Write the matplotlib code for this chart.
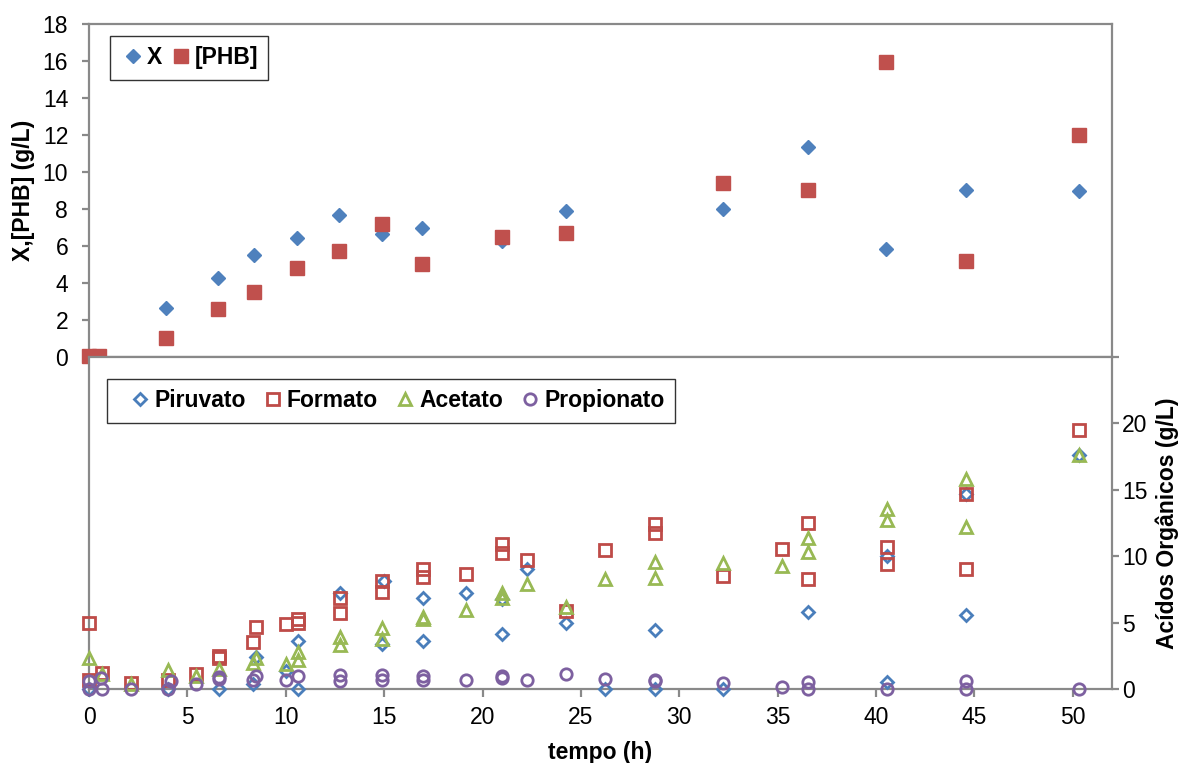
import matplotlib
matplotlib.use("Agg")
import matplotlib.pyplot as plt
from matplotlib.ticker import FixedLocator, FuncFormatter

plt.rcParams['font.family'] = ['Liberation Sans', 'DejaVu Sans']

# ---------------- data: top panel ----------------
t_x = [0.0, 3.9, 6.53, 8.36, 10.56, 12.71, 14.88, 16.9, 20.97, 24.25, 32.25, 36.53, 40.5, 44.59, 50.32]
x_biomass = [0.0, 2.64, 4.26, 5.52, 6.43, 7.69, 6.64, 7.0, 6.3, 7.92, 8.01, 11.39, 5.86, 9.04, 9.0]
t_phb = [0.0, 0.5, 3.9, 6.53, 8.36, 10.56, 12.71, 14.88, 16.9, 20.97, 24.25, 32.25, 36.53, 40.5, 44.59, 50.32]
phb = [0.05, 0.05, 1.01, 2.6, 3.5, 4.8, 5.74, 7.2, 5.03, 6.51, 6.73, 9.42, 9.04, 15.99, 5.18, 12.02]

# ---------------- data: bottom panel ----------------
t_piruvato = [0.0, 4.0, 6.6, 8.35, 8.5, 10.0, 10.6, 10.6, 12.75, 14.9, 15.0, 16.95, 16.95, 19.15,
              21.0, 21.0, 22.25, 24.25, 26.25, 28.75, 28.75, 32.25, 36.55, 40.55, 40.55,
              44.6, 44.6, 50.3]
piruvato = [0.0, 0.0, 0.0, 0.37, 2.4, 1.37, 3.62, 0.0, 7.2, 3.4, 8.1, 6.83, 3.65, 7.2,
            6.75, 4.15, 9.0, 5.0, 0.0, 4.45, 0.0, 0.0, 5.8, 10.05, 0.5,
            14.7, 5.57, 17.6]

t_formato = [0.0, 0.0, 0.68, 2.15, 4.0, 5.46, 6.6, 6.6, 8.35, 8.5, 10.0, 10.6, 10.6, 12.75, 12.75,
             14.9, 14.9, 16.95, 16.95, 19.15, 21.0, 21.0, 22.25, 24.25, 26.25, 28.75, 28.75,
             32.25, 35.2, 36.55, 36.55, 40.55, 40.55, 44.6, 44.6, 50.3]
formato = [5.0, 0.7, 1.2, 0.45, 0.7, 1.15, 2.5, 2.35, 3.57, 4.65, 4.88, 5.3, 5.0, 6.83, 5.7,
           8.15, 7.3, 9.0, 8.45, 8.63, 10.9, 10.25, 9.75, 5.9, 10.5, 12.4, 11.78,
           8.52, 10.52, 12.53, 8.27, 10.7, 9.4, 14.65, 9.03, 19.5]

t_acetato = [0.0, 0.68, 2.15, 4.0, 5.46, 6.6, 8.35, 8.5, 10.0, 10.6, 10.6, 12.75, 12.75, 14.9, 14.9,
             16.95, 16.95, 19.15, 21.0, 21.0, 22.25, 24.25, 26.25, 28.75, 28.75, 32.25, 35.2,
             36.55, 36.55, 40.55, 40.55, 44.6, 44.6, 50.3]
acetato = [2.37, 1.1, 0.4, 1.45, 1.0, 1.5, 1.95, 2.3, 1.9, 2.8, 2.15, 3.9, 3.3, 4.57, 3.8,
           5.45, 5.3, 5.95, 7.2, 6.83, 7.88, 6.2, 8.27, 9.57, 8.37, 9.5, 9.25,
           11.4, 10.32, 13.58, 12.75, 15.83, 12.2, 17.65]

t_propionato = [0.0, 0.0, 0.6, 0.68, 2.15, 4.0, 4.15, 5.46, 6.6, 6.6, 8.35, 8.5, 10.0, 10.6,
                12.75, 12.75, 14.9, 14.9, 16.95, 16.95, 19.15, 21.0, 21.0, 22.25, 24.25, 26.25,
                28.75, 28.75, 32.25, 35.2, 36.55, 36.55, 40.55, 44.6, 44.6, 50.3]
propionato = [0.57, 0.0, 0.82, 0.0, 0.0, 0.0, 0.57, 0.4, 0.9, 0.75, 0.7, 1.0, 0.65, 0.95,
              1.07, 0.57, 1.07, 0.7, 1.0, 0.7, 0.65, 0.95, 0.85, 0.65, 1.15, 0.75,
              0.7, 0.6, 0.45, 0.15, 0.5, 0.0, 0.0, 0.62, 0.0, 0.0]

x_ticks = [0, 5, 10, 15, 20, 25, 30, 35, 40, 45, 50]
top_y_ticks = [0, 2, 4, 6, 8, 10, 12, 14, 16, 18]
bot_y_ticks = [0, 5, 10, 15, 20, 25]

# ---------------- styling ----------------
GRAY = '#898989'
BLUE_F = '#4F81BD'
RED_F = '#C0504D'
BLUE = '#4A7EBB'
RED = '#BE4B48'
GREEN = '#98B954'
PURPLE = '#7D60A0'
FS = 16.5

fig = plt.figure(figsize=(11.81, 7.63), dpi=100)
ax1 = fig.add_axes([0.0754, 0.5321, 0.8662, 0.4358], zorder=1)
ax2 = fig.add_axes([0.0754, 0.0970, 0.8662, 0.4351], zorder=2)

for ax in (ax1, ax2):
    for s in ax.spines.values():
        s.set_color(GRAY)
        s.set_linewidth(1.6)
    ax.set_xlim(0, 52)
    ax.set_facecolor('white')

# top panel
ax1.plot(t_x, x_biomass, linestyle='none', marker='D', markersize=7.2,
         color=BLUE_F, markeredgecolor=BLUE_F, clip_on=False, zorder=3, label='X')
ax1.plot(t_phb, phb, linestyle='none', marker='s', markersize=10,
         color=RED_F, markeredgecolor=RED_F, clip_on=False, zorder=3, label='[PHB]')
ax1.set_ylim(0, 18)
ax1.yaxis.set_major_locator(FixedLocator(top_y_ticks))
ax1.tick_params(axis='y', direction='out', length=5, width=1.6, color=GRAY,
                labelsize=FS, pad=10)
ax1.tick_params(axis='x', length=0, labelbottom=False)
ax1.set_ylabel('X,[PHB] (g/L)', fontsize=FS, fontweight='bold')
ax1.yaxis.label.set_va('center')
ax1.yaxis.label.set_ha('center')
ax1.yaxis.set_label_coords(-0.0642, 0.5)
leg1 = ax1.legend(loc='upper left', bbox_to_anchor=(0.0205, 0.9654), borderaxespad=0,
                  ncol=2, numpoints=1, handlelength=1.12, handletextpad=0.04,
                  columnspacing=0.25, frameon=True, fancybox=False,
                  prop={'size': FS, 'weight': 'bold'}, borderpad=0.45)
leg1.get_frame().set_edgecolor('black')
leg1.get_frame().set_linewidth(1.0)

# bottom panel
mk = dict(linestyle='none', markerfacecolor='none', markeredgewidth=2.0,
          clip_on=False, zorder=3)
ax2.plot(t_piruvato, piruvato, marker='D', markersize=6.4, markeredgecolor=BLUE,
         color=BLUE, label='Piruvato', **mk)
ax2.plot(t_formato, formato, marker='s', markersize=8.3, markeredgecolor=RED,
         color=RED, label='Formato', **mk)
ax2.plot(t_acetato, acetato, marker='^', markersize=8.7, markeredgecolor=GREEN,
         color=GREEN, label='Acetato', **mk)
ax2.plot(t_propionato, propionato, marker='o', markersize=8.2, markeredgecolor=PURPLE,
         color=PURPLE, label='Propionato', **mk)
ax2.set_ylim(0, 25)
ax2.yaxis.tick_right()
ax2.yaxis.set_label_position('right')
ax2.yaxis.set_major_locator(FixedLocator(bot_y_ticks))
ax2.yaxis.set_major_formatter(FuncFormatter(lambda v, p: '' if v >= 25 else '%d' % v))
ax2.xaxis.set_major_locator(FixedLocator(x_ticks))
ax2.tick_params(axis='y', direction='out', length=5, width=1.6, color=GRAY,
                labelsize=FS, pad=2)
ax2.tick_params(axis='x', direction='out', length=6, width=1.6, color=GRAY,
                labelsize=FS, pad=6)
ax2.set_ylabel('Acídos Orgânicos (g/L)', fontsize=FS, fontweight='bold')
ax2.yaxis.label.set_va('center')
ax2.yaxis.label.set_ha('center')
ax2.yaxis.label.set_rotation(90)
ax2.yaxis.set_label_coords(1.0535, 0.5)
ax2.set_xlabel('tempo (h)', fontsize=FS, fontweight='bold')
ax2.xaxis.label.set_va('center')
ax2.xaxis.set_label_coords(0.5, -0.19)
leg2 = ax2.legend(loc='upper left', bbox_to_anchor=(0.0176, 0.9337), borderaxespad=0,
                  ncol=4, numpoints=1, handlelength=2.0, handletextpad=-0.4,
                  columnspacing=0.2, frameon=True, fancybox=False,
                  prop={'size': FS, 'weight': 'bold'}, borderpad=0.45)
leg2.get_frame().set_edgecolor('black')
leg2.get_frame().set_linewidth(1.0)

fig.savefig('out.png', dpi=100, facecolor='white')
